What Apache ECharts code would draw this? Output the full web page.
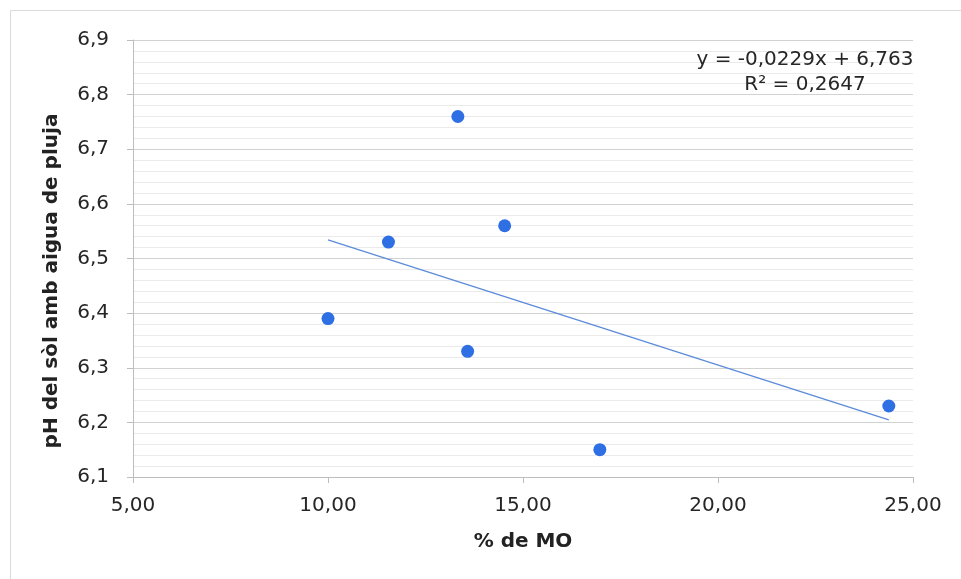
<!DOCTYPE html>
<html lang="ca">
<head>
    <meta charset="UTF-8">
    <script src="https://cdn.jsdelivr.net/npm/echarts@6/dist/echarts.min.js"></script>
    <title>pH vs MO</title>
    <style>
        html, body { margin: 0; padding: 0; background: #fff; }
    </style>
</head>
<body>
    <div id="chart" style="width: 961px;height:579px;"></div>
</body>
<script type="text/javascript">
    // dades llegides del gràfic
    var moValues = [10.0, 11.55, 13.33, 13.58, 14.53, 16.97, 24.38];
    var phValues = [6.39, 6.53, 6.76, 6.33, 6.56, 6.15, 6.23];
    // coeficients de la línia de tendència (de l'etiqueta)
    var trendSlope = -0.0229;
    var trendIntercept = 6.763;
    var trendLabel = ['y = -0,0229x + 6,763', 'R² = 0,2647'];

    var points = moValues.map(function (x, i) { return [x, phValues[i]]; });
    var xMin = Math.min.apply(null, moValues);
    var xMax = Math.max.apply(null, moValues);
    var trendPoints = [
        [xMin, trendIntercept + trendSlope * xMin],
        [xMax, trendIntercept + trendSlope * xMax]
    ];

    var FONT = 'DejaVu Sans, Verdana, sans-serif';

    function comma(v, d) {
        return v.toFixed(d).replace('.', ',');
    }

    var chart = echarts.init(document.getElementById('chart'));
    chart.setOption({
        animation: false,
        textStyle: {fontFamily: FONT},
        grid: {left: 133, right: 48, top: 40, bottom: 102},
        graphic: [{
            type: 'polyline',
            shape: {points: [[10.5, 579], [10.5, 10.5], [961, 10.5]]},
            style: {stroke: '#dadada', lineWidth: 1, fill: null}
        }, {
            type: 'text',
            x: 805, y: 47,
            z: 10,
            style: {
                text: trendLabel.join('\n'),
                align: 'center',
                fill: '#262626',
                font: '20px ' + FONT,
                lineHeight: 25
            }
        }, {
            // títol de l'eix Y
            type: 'text',
            x: 52, y: 281,
            rotation: Math.PI / 2,
            style: {
                text: 'pH del sòl amb aigua de pluja',
                align: 'center',
                verticalAlign: 'middle',
                fill: '#222',
                font: 'bold 20px ' + FONT
            }
        }],
        xAxis: {
            type: 'value',
            min: 5, max: 25, interval: 5,
            name: '% de MO',
            nameLocation: 'middle',
            nameGap: 55,
            nameTextStyle: {fontSize: 20, fontWeight: 'bold', color: '#222'},
            axisLine: {show: true, lineStyle: {color: '#bdbdbd'}},
            axisTick: {show: true, length: 6, lineStyle: {color: '#bdbdbd'}},
            axisLabel: {fontSize: 20, color: '#262626', margin: 19,
                formatter: function (v) { return comma(v, 2); }},
            splitLine: {show: false}
        },
        yAxis: {
            type: 'value',
            min: 6.1, max: 6.9, interval: 0.1,
            axisLine: {show: true, lineStyle: {color: '#bdbdbd'}},
            axisTick: {show: true, length: 6, lineStyle: {color: '#bdbdbd'}},
            axisLabel: {fontSize: 20, color: '#262626', margin: 24,
                formatter: function (v) { return comma(v, 1); }},
            splitLine: {show: true, lineStyle: {color: '#d2d2d2'}},
            minorTick: {show: false, splitNumber: 5},
            minorSplitLine: {show: true, lineStyle: {color: '#eaeaea'}}
        },
        series: [{
            name: 'pH',
            type: 'scatter',
            data: points,
            symbolSize: 13,
            itemStyle: {color: '#2f6fe4', opacity: 1},
            z: 3
        }, {
            name: 'Tendència',
            type: 'line',
            data: trendPoints,
            symbol: 'none',
            lineStyle: {color: '#5b8bd9', width: 1.3},
            z: 2
        }]
    });
</script>
</html>
